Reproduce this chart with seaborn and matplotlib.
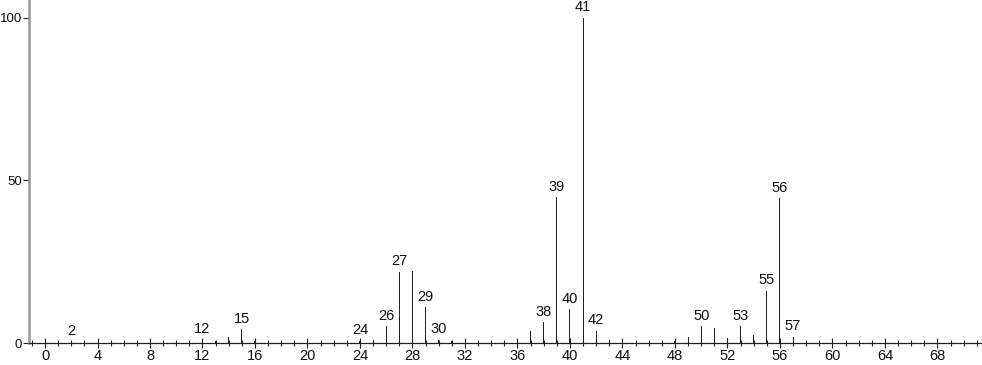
import matplotlib
matplotlib.use("Agg")
import matplotlib.pyplot as plt
import seaborn as sns
import pandas as pd
from matplotlib.ticker import MultipleLocator

# m/z values and relative intensities
mz = [2, 12, 13, 14, 15, 16, 24, 25, 26, 27, 28, 29, 30, 31, 36, 37, 38, 39, 40,
      41, 42, 43, 48, 49, 50, 51, 52, 53, 54, 55, 56, 57, 58]
intensity = [0.6, 1.0, 0.6, 1.8, 4.2, 0.5, 0.7, 0.8, 5.2, 21.9, 22.0, 11.0, 1.0, 0.5,
             1.0, 3.8, 6.4, 44.8, 10.4, 100.0, 3.7, 0.8, 0.5, 1.8, 5.2, 4.5, 1.5,
             5.2, 2.6, 16.1, 44.5, 1.9, 0.7]
labeled = [2, 12, 15, 24, 26, 27, 29, 30, 38, 39, 40, 41, 42, 50, 53, 55, 56, 57]
xticks = list(range(0, 69, 4))
yticks = [0, 50, 100]

sns.set_style("ticks")
plt.rcParams["font.family"] = ["Liberation Sans", "DejaVu Sans"]

df = pd.DataFrame({"mz": mz, "intensity": intensity})

fig = plt.figure(figsize=(9.82, 3.65), dpi=100)
ax = fig.add_axes([29 / 982, 22 / 365, 953 / 982, 343 / 365])

sns.barplot(data=df, x="mz", y="intensity", native_scale=True, width=0.08,
            color="#222222", linewidth=0, saturation=1, ax=ax, errorbar=None)

for m, v in zip(mz, intensity):
    if m in labeled:
        ax.annotate(str(m), (m, v), xytext=(0, 2.5), textcoords="offset points",
                    ha="center", va="bottom", fontsize=10.5, color="#111111")

ax.set_xlim(-1.22, 71.4)
ax.set_ylim(0, 105.5)
ax.set_xticks(xticks)
ax.set_xticklabels([str(t) for t in xticks])
ax.xaxis.set_minor_locator(MultipleLocator(1))
ax.set_yticks(yticks)
ax.set_yticklabels([str(t) for t in yticks])
ax.set_xlabel("")
ax.set_ylabel("")

ax.tick_params(axis="x", which="major", direction="inout", length=7, width=0.8,
               color="#222222", labelsize=10.5, pad=1, labelcolor="#111111")
ax.tick_params(axis="x", which="minor", direction="inout", length=4, width=0.8,
               color="#222222")
ax.tick_params(axis="y", which="major", direction="out", length=4.5, width=0.8,
               color="#222222", labelsize=9.5, pad=0.5, labelcolor="#111111")

for s in ["top", "right"]:
    ax.spines[s].set_visible(False)
ax.spines["left"].set_color("#999999")
ax.spines["left"].set_linewidth(1.8)
ax.spines["bottom"].set_color("#222222")
ax.spines["bottom"].set_linewidth(0.9)

fig.savefig("out.png", dpi=100)
